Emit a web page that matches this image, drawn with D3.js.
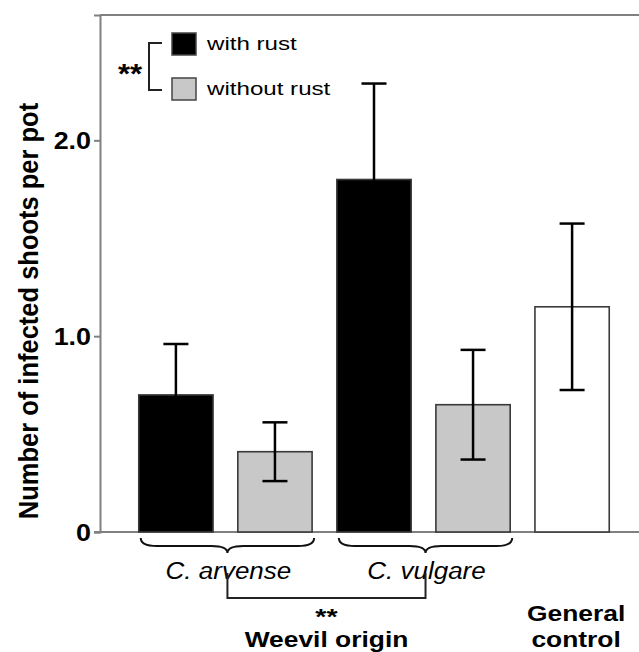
<!DOCTYPE html>
<html>
<head>
<meta charset="utf-8">
<script src="https://cdn.jsdelivr.net/npm/d3@7/dist/d3.min.js"></script>
<style>
  html, body { margin: 0; padding: 0; background: #fff; }
  svg { display: block; }
  text { font-family: "Liberation Sans", Arial, sans-serif; }
</style>
</head>
<body>
<svg id="chart" width="639" height="652"></svg>
<script>
// ---- data ----
const categories = ["C. arvense with rust", "C. arvense without rust", "C. vulgare with rust", "C. vulgare without rust", "General control"];
const groups = ["with", "without", "with", "without", "control"];
const means = [0.70, 0.41, 1.80, 0.65, 1.15];
const errors = [0.26, 0.15, 0.49, 0.28, 0.425];
const yTickValues = [0, 1.0, 2.0];
const yTickLabels = ["0", "1.0", "2.0"];
const legendLabels = ["with rust", "without rust"];
const originLabels = ["C. arvense", "C. vulgare"];

// ---- styles ----
const fillFor = { with: "#000000", without: "#c8c8c8", control: "#ffffff" };
const SX = 1.18;

const svg = d3.select("#chart");
const W = 639;
const x = d3.scaleBand().domain(categories).range([114, 634]).paddingInner(0.25).paddingOuter(0.25);
const y = d3.scaleLinear().domain([0, 2.64]).range([532, 15]);

function addText(px, py, str, opts) {
  const t = svg.append("text")
    .attr("transform", `translate(${px},${py}) scale(${opts.sx || SX},1)`)
    .attr("text-anchor", opts.anchor || "start")
    .attr("font-size", opts.size)
    .attr("font-weight", opts.weight || "normal")
    .attr("font-style", opts.style || "normal")
    .attr("fill", "#000")
    .text(str);
  return t;
}

// frame: top line
svg.append("line").attr("x1", 100).attr("x2", W).attr("y1", y(2.64)).attr("y2", y(2.64))
  .attr("stroke", "#808080").attr("stroke-width", 2);

// y axis
const yAxis = d3.axisLeft(y).tickValues(yTickValues).tickSize(6)
  .tickFormat((d, i) => yTickLabels[i]);
const gy = svg.append("g").attr("transform", "translate(100,0)").call(yAxis);
gy.select(".domain").attr("stroke", "#808080").attr("stroke-width", 2);
gy.selectAll(".tick line").attr("stroke", "#808080").attr("stroke-width", 2);
gy.selectAll(".tick text").remove();
yTickValues.forEach((v, i) => {
  addText(91, y(v) + 8.5, yTickLabels[i], { size: 24, weight: "bold", anchor: "end", sx: 1.12 });
});

// x baseline
svg.append("line").attr("x1", 94).attr("x2", W).attr("y1", y(0)).attr("y2", y(0))
  .attr("stroke", "#808080").attr("stroke-width", 2);

// bars
svg.append("g").selectAll("rect").data(categories).join("rect")
  .attr("x", d => x(d))
  .attr("width", x.bandwidth())
  .attr("y", (d, i) => y(means[i]))
  .attr("height", (d, i) => y(0) - y(means[i]))
  .attr("fill", (d, i) => fillFor[groups[i]])
  .attr("stroke", "#3a3a3a")
  .attr("stroke-width", 1.6);

// error bars
const eb = svg.append("g").attr("stroke", "#000").attr("stroke-width", 2.5);
categories.forEach((c, i) => {
  const cx = x(c) + x.bandwidth() / 2;
  const hi = y(means[i] + errors[i]);
  const lo = y(means[i] - errors[i]);
  eb.append("line").attr("x1", cx).attr("x2", cx).attr("y1", hi).attr("y2", lo);
  eb.append("line").attr("x1", cx - 12.5).attr("x2", cx + 12.5).attr("y1", hi).attr("y2", hi);
  eb.append("line").attr("x1", cx - 12.5).attr("x2", cx + 12.5).attr("y1", lo).attr("y2", lo);
});

// braces under origin groups
function brace(x1, x2, y0) {
  const xm = (x1 + x2) / 2;
  const y1 = y0 + 8, y2 = y0 + 15, r = 16;
  return `M${x1},${y0} Q${x1},${y1} ${x1 + r},${y1} L${xm - r},${y1} Q${xm},${y1} ${xm},${y2} ` +
         `Q${xm},${y1} ${xm + r},${y1} L${x2 - r},${y1} Q${x2},${y1} ${x2},${y0}`;
}
const braceY = y(0) + 6;
const pairs = [[categories[0], categories[1]], [categories[2], categories[3]]];
const braceCenters = [];
pairs.forEach((p, k) => {
  const x1 = x(p[0]) + 2, x2 = x(p[1]) + x.bandwidth() + 2;
  svg.append("path").attr("d", brace(x1, x2, braceY))
    .attr("fill", "none").attr("stroke", "#111").attr("stroke-width", 2);
  braceCenters.push((x1 + x2) / 2);
  addText((x1 + x2) / 2 + 1, 579, originLabels[k], { size: 23, style: "italic", anchor: "middle", sx: 1.13 });
});

// significance bracket for weevil origin
svg.append("path")
  .attr("d", `M${braceCenters[0]},573 L${braceCenters[0]},598 L${braceCenters[1]},598 L${braceCenters[1]},573`)
  .attr("fill", "none").attr("stroke", "#222").attr("stroke-width", 2);
const midB = (braceCenters[0] + braceCenters[1]) / 2;
addText(midB, 624, "**", { size: 22, weight: "bold", anchor: "middle", sx: 1.3 });
addText(midB, 647, "Weevil origin", { size: 22, weight: "bold", anchor: "middle", sx: 1.2 });

// General control label
const gcx = x(categories[4]) + x.bandwidth() / 2;
addText(gcx + 4, 621, "General", { size: 22, weight: "bold", anchor: "middle", sx: 1.2 });
addText(gcx + 4, 647, "control", { size: 22, weight: "bold", anchor: "middle", sx: 1.2 });

// legend
const legColors = [fillFor.with, fillFor.without];
const legY = [33, 78];
legendLabels.forEach((lab, i) => {
  svg.append("rect").attr("x", 172).attr("y", legY[i]).attr("width", 24).attr("height", 22)
    .attr("fill", legColors[i]).attr("stroke", "#444").attr("stroke-width", 1.5);
  addText(207, legY[i] + 16.5, lab, { size: 19, anchor: "start", sx: 1.27 });
});
svg.append("path").attr("d", "M162,43 L149,43 L149,90 L162,90")
  .attr("fill", "none").attr("stroke", "#222").attr("stroke-width", 2);
addText(130, 83, "**", { size: 27, weight: "bold", anchor: "middle", sx: 1.15 });

// y axis title
svg.append("text")
  .attr("transform", "translate(38,311) rotate(-90) scale(1,1.12)")
  .attr("text-anchor", "middle")
  .attr("font-size", 25.5)
  .attr("font-weight", "bold")
  .attr("fill", "#000")
  .text("Number of infected shoots per pot");
</script>
</body>
</html>
